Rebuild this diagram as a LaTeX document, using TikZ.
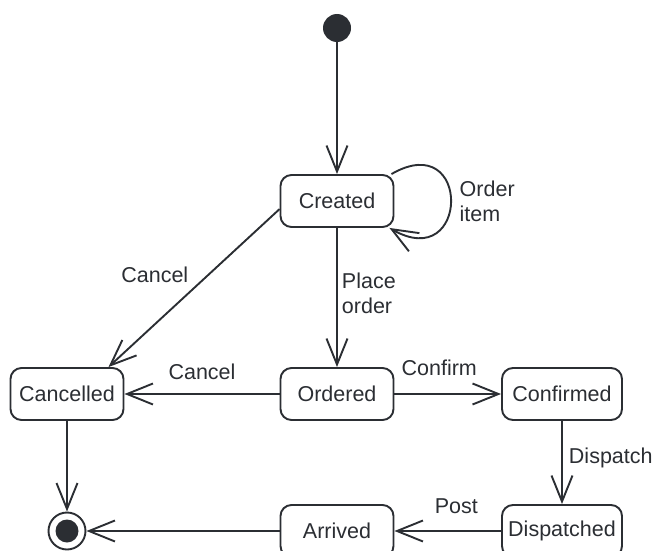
\documentclass[tikz,border=0pt]{standalone}
\usepackage{fontspec}
\setmainfont{Liberation Sans}
\usetikzlibrary{arrows.meta,positioning}
\definecolor{ink}{HTML}{2B2E33}
\tikzset{>={Straight Barb[length=26pt,width=21pt]},
         every state/.style={draw=ink, line width=1.9pt, rounded corners=11pt,
           fill=white, minimum width=113pt, minimum height=52pt, inner sep=4pt,
           font=\fontsize{21.5}{25}\selectfont, text=ink},
         state/.style={every state},
         wide/.style={state, minimum width=120pt},
         init/.style={circle, fill=ink, minimum size=28pt, inner sep=0pt},
         final/.style={circle, draw=ink, line width=1.9pt, fill=white,
           minimum size=37pt, inner sep=0pt,
           path picture={\fill[ink] (path picture bounding box.center) circle (11.5pt);}},
         lbl/.style={font=\fontsize{21.5}{25}\selectfont, text=ink, inner sep=2pt, align=left},
         flow/.style={draw=ink, line width=1.9pt, ->}}

\begin{document}
\begin{tikzpicture}[x=1pt,y=-1pt]
  \useasboundingbox (0,0) rectangle (653,551);
  % states
  \node[init]  (start)      at (337,28)  {};
  \node[state] (created)    at (337,201) {Created};
  \node[state] (ordered)    at (337,394) {Ordered};
  \node[state] (cancelled)  at (67,394)  {Cancelled};
  \node[wide]  (confirmed)  at (562,394) {Confirmed};
  \node[wide]  (dispatched) at (562,531) {Dispatched};
  \node[state] (arrived)    at (337,531) {Arrived};
  \node[final] (end)        at (67,531)  {};
  % transitions
  \draw[flow] ([xshift=-3pt]created.north east) to[out=30, in=-30, looseness=4.4]
    node[lbl, right=6pt] {Order\\item} ([xshift=-5pt]created.south east);
  \draw[flow] (start) -- (created);
  \draw[flow] (created) -- node[lbl, right=2pt, pos=.47] {Place\\order} (ordered);
  \draw[flow] (created.188) -- node[lbl, above left=4pt] {Cancel} (cancelled.33);
  \draw[flow] (ordered) -- node[lbl, above=11pt] {Cancel} (cancelled);
  \draw[flow] (ordered) -- node[lbl, above=15pt, pos=.42] {Confirm} (confirmed);
  \draw[flow] (confirmed) -- node[lbl, right=4pt, pos=.45] {Dispatch} (dispatched);
  \draw[flow] (dispatched) -- node[lbl, above=14pt, pos=.42] {Post} (arrived);
  \draw[flow] (arrived) -- (end);
  \draw[flow] (cancelled) -- (end);
\end{tikzpicture}
\end{document}
